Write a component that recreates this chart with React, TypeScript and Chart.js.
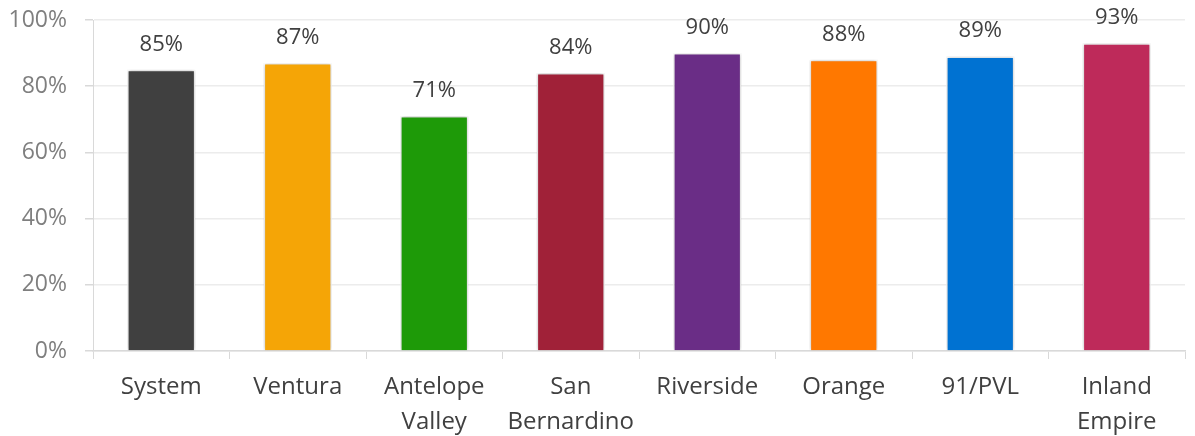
import React, { useEffect, useRef } from "react";
import { Chart, registerables } from "chart.js";

Chart.register(...registerables);

const categories: (string | string[])[] = [
  "System",
  "Ventura",
  ["Antelope", "Valley"],
  ["San", "Bernardino"],
  "Riverside",
  "Orange",
  "91/PVL",
  ["Inland", "Empire"],
];

const values = [85, 87, 71, 84, 90, 88, 89, 93];

const barColors = [
  "#404040",
  "#F5A506",
  "#1E9A08",
  "#A02138",
  "#6A2D86",
  "#FF7800",
  "#0072D2",
  "#BE2A5A",
];

const yTicks = [0, 20, 40, 60, 80, 100];

const FONT = "'Open Sans', sans-serif";

// Soft drop shadow behind the bars
const barShadow = {
  id: "barShadow",
  beforeDatasetDraw(chart: any) {
    const ctx = chart.ctx;
    ctx.save();
    ctx.shadowColor = "rgba(0,0,0,0.28)";
    ctx.shadowBlur = 4;
    ctx.shadowOffsetX = 0;
    ctx.shadowOffsetY = 0;
  },
  afterDatasetDraw(chart: any) {
    chart.ctx.restore();
  },
};

// Percentage labels above each bar
const valueLabels = {
  id: "valueLabels",
  afterDatasetsDraw(chart: any) {
    const ctx = chart.ctx;
    const meta = chart.getDatasetMeta(0);
    ctx.save();
    ctx.font = `22px ${FONT}`;
    ctx.fillStyle = "#404040";
    ctx.textAlign = "center";
    ctx.textBaseline = "alphabetic";
    meta.data.forEach((bar: any, i: number) => {
      ctx.fillText(`${values[i]}%`, bar.x, bar.y - 19);
    });
    ctx.restore();
  },
};

export default function App() {
  const canvasRef = useRef<HTMLCanvasElement>(null);

  useEffect(() => {
    if (!canvasRef.current) return;
    const chart = new Chart(canvasRef.current, {
      type: "bar",
      data: {
        labels: categories,
        datasets: [
          {
            data: values,
            backgroundColor: barColors,
            borderColor: "#ffffff",
            borderWidth: 1.5,
            barPercentage: 0.5,
            categoryPercentage: 1,
          },
        ],
      },
      options: {
        animation: false,
        responsive: false,
        maintainAspectRatio: false,
        layout: { padding: { top: 20, right: 10, left: 0, bottom: 0 } },
        plugins: {
          legend: { display: false },
          tooltip: { enabled: false },
        },
        scales: {
          x: {
            afterFit(scale: any) {
              scale.height = 85;
            },
            grid: {
              display: true,
              drawOnChartArea: false,
              drawTicks: true,
              tickLength: 8,
              offset: true,
              color: "#d9d9d9",
              lineWidth: 1,
            },
            border: { display: true, color: "#d9d9d9", width: 1.5 },
            ticks: {
              color: "#404040",
              font: { family: FONT, size: 24, lineHeight: 1.45 },
              padding: 11,
              maxRotation: 0,
              autoSkip: false,
            },
          },
          y: {
            min: 0,
            max: 100,
            afterFit(scale: any) {
              scale.width = 93;
              scale.paddingTop = 0;
              scale.paddingBottom = 0;
            },
            afterBuildTicks(scale: any) {
              scale.ticks = yTicks.map((v) => ({ value: v }));
            },
            grid: {
              color: "#ececec",
              lineWidth: 1.5,
              drawTicks: true,
              tickLength: 8,
              tickColor: "#d9d9d9",
            },
            border: { display: true, color: "#d9d9d9", width: 1 },
            ticks: {
              color: "#7f7f7f",
              font: { family: FONT, size: 23 },
              padding: 18,
              callback: (v: any) => `${v}%`,
            },
          },
        },
      },
      plugins: [barShadow, valueLabels],
    });
    return () => chart.destroy();
  }, []);

  return (
    <div
      style={{
        position: "absolute",
        left: 0,
        top: 0,
        width: 1195,
        height: 436,
        background: "#ffffff",
      }}
    >
      <canvas ref={canvasRef} width={1195} height={436} />
    </div>
  );
}
